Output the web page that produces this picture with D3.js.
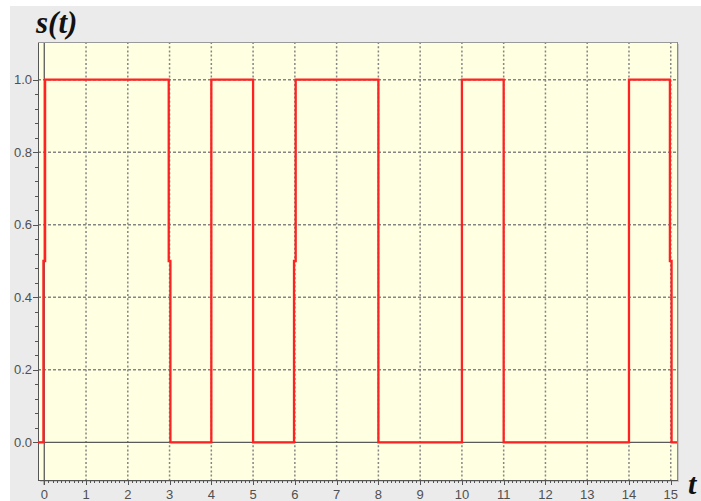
<!DOCTYPE html>
<html>
<head>
<meta charset="utf-8">
<script src="https://cdn.jsdelivr.net/npm/d3@7"></script>
<style>
html,body{margin:0;padding:0;background:#fff;}
svg{display:block;}
</style>
</head>
<body>
<svg id="chart" width="701" height="501"></svg>
<script>
// ---- data ----
// level-change instants (t) and the level held from that instant on (s)
const changeTimes = [-0.15, -0.02, 0.02, 2.98, 3.02, 4, 5, 5.98, 6.02, 8, 10, 11, 14, 14.98, 15.02, 15.15];
const levels      = [0,      0.5,   1,    0.5,  0,    1, 0, 0.5,  1,    0, 1,  0,  1,  0.5,   0,     0];
const yTickValues = [0, 0.2, 0.4, 0.6, 0.8, 1.0];
const yTickLabels = ["0.0", "0.2", "0.4", "0.6", "0.8", "1.0"];
const xTickValues = [0,1,2,3,4,5,6,7,8,9,10,11,12,13,14,15];
const xTickLabels = ["0","1","2","3","4","5","6","7","8","9","10","11","12","13","14","15"];
const yTitle = "s(t)";
const xTitle = "t";

const svg = d3.select("#chart");
const L = 38, R = 677, T = 42, B = 480;
const x = d3.scaleLinear().domain([-0.15, 15.15]).range([L, R]);
const y = d3.scaleLinear().domain([-0.104, 1.104]).range([B, T]);

// page background
svg.append("rect").attr("x",10).attr("y",6).attr("width",691).attr("height",495).attr("fill","#ebebeb");
// plot shadow
svg.append("rect").attr("x",L+2).attr("y",T+2).attr("width",R-L).attr("height",B-T).attr("fill","#c8c8c8");
// plot area
svg.append("rect").attr("x",L).attr("y",T).attr("width",R-L).attr("height",B-T).attr("fill","#ffffe1");

const grid = svg.append("g").attr("stroke","#858585").attr("stroke-width",1.5);
// vertical dotted grid
grid.selectAll("line.v").data(xTickValues.filter(d=>d!==0)).join("line")
  .attr("x1",d=>x(d)).attr("x2",d=>x(d))
  .attr("y1",T).attr("y2",B)
  .attr("stroke-dasharray","2,2.2");
// horizontal dotted grid
grid.selectAll("line.h").data(yTickValues.filter(d=>d!==0)).join("line")
  .attr("y1",d=>y(d)).attr("y2",d=>y(d))
  .attr("x1",L).attr("x2",R)
  .attr("stroke-dasharray","3,2");

// axes through zero
const ax = svg.append("g").attr("stroke","#5a5a5a").attr("stroke-width",1.3);
ax.append("line").attr("x1",x(0)).attr("x2",x(0)).attr("y1",T).attr("y2",B+5);
ax.append("line").attr("y1",y(0)).attr("y2",y(0)).attr("x1",L).attr("x2",R);

// plot border
const bd = svg.append("g").attr("shape-rendering","crispEdges").attr("stroke-width",1);
bd.append("line").attr("x1",L+0.5).attr("x2",L+0.5).attr("y1",T).attr("y2",B+1).attr("stroke","#555");
bd.append("line").attr("x1",L).attr("x2",R+1).attr("y1",B+0.5).attr("y2",B+0.5).attr("stroke","#555");
bd.append("line").attr("x1",L).attr("x2",R).attr("y1",T+0.5).attr("y2",T+0.5).attr("stroke","#9a9a9a");
bd.append("line").attr("x1",R+0.5).attr("x2",R+0.5).attr("y1",T).attr("y2",B).attr("stroke","#8a8a8a");

// y ticks (major + minor) on left border
const yMinor = d3.range(0, 1.0001, 0.04).map(v=>+v.toFixed(2));
svg.append("g").attr("stroke","#555").attr("shape-rendering","crispEdges")
  .selectAll("line").data(yMinor).join("line")
  .attr("y1",d=>Math.round(y(d))+0.5).attr("y2",d=>Math.round(y(d))+0.5)
  .attr("x1",d=>yTickValues.some(v=>Math.abs(v-d)<1e-6)? L-5 : L-3).attr("x2",L);
// x ticks (major + minor) on bottom border
const xMinor = d3.range(0, 15.0001, 0.1).map(v=>+v.toFixed(1));
svg.append("g").attr("stroke","#555").attr("shape-rendering","crispEdges")
  .selectAll("line").data(xMinor).join("line")
  .attr("x1",d=>Math.round(x(d))+0.5).attr("x2",d=>Math.round(x(d))+0.5)
  .attr("y1",B).attr("y2",d=>Number.isInteger(d)? B+5 : B+3);

// tick labels
svg.append("g").attr("font-family","'Liberation Sans', Arial, sans-serif").attr("font-size",13).attr("fill","#505050")
  .attr("text-anchor","end")
  .selectAll("text").data(yTickValues).join("text")
  .attr("x",L-6).attr("y",d=>y(d)+4.5)
  .text((d,i)=>yTickLabels[i]);
svg.append("g").attr("font-family","'Liberation Sans', Arial, sans-serif").attr("font-size",13).attr("fill","#505050")
  .attr("text-anchor","middle")
  .selectAll("text").data(xTickValues).join("text")
  .attr("x",d=>x(d)).attr("y",499)
  .text((d,i)=>xTickLabels[i]);

// signal
const pts = changeTimes.map((t,i)=>[t, levels[i]]);
const line = d3.line().x(d=>x(d[0])).y(d=>y(d[1])).curve(d3.curveStepAfter);
svg.append("path").datum(pts).attr("d",line)
  .attr("fill","none").attr("stroke","#ff2222").attr("stroke-width",2.3);

// titles
svg.append("text").attr("x",36).attr("y",33)
  .attr("font-family","'Liberation Serif', 'Times New Roman', serif")
  .attr("font-weight","bold").attr("font-style","italic").attr("font-size",31).attr("fill","#111")
  .text(yTitle);
svg.append("text").attr("x",688).attr("y",494)
  .attr("font-family","'Liberation Serif', 'Times New Roman', serif")
  .attr("font-weight","bold").attr("font-style","italic").attr("font-size",30).attr("fill","#111")
  .text(xTitle);
</script>
</body>
</html>
